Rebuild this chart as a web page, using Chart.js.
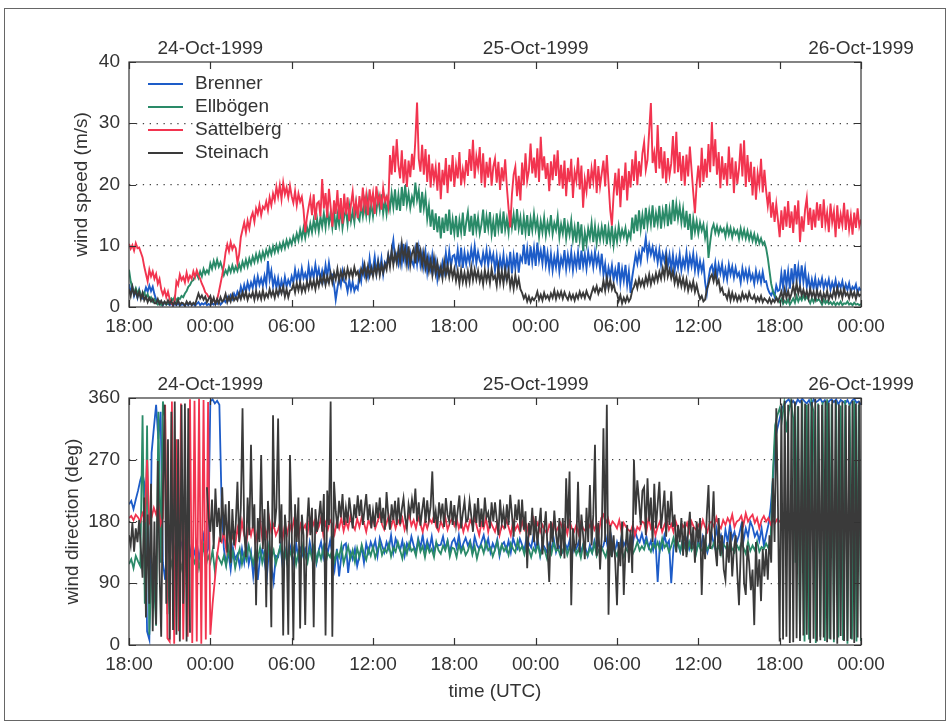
<!DOCTYPE html>
<html>
<head>
<meta charset="utf-8">
<script src="https://cdn.jsdelivr.net/npm/chart.js@4.4.1/dist/chart.umd.min.js"></script>
<style>
  html, body { margin: 0; padding: 0; background: #fff; }
  #page { position: relative; width: 949px; height: 725px; overflow: hidden; background: #fff; }
  #frame { position: absolute; left: 4px; top: 8px; width: 940px; height: 711px; border: 1px solid #666; }
  canvas { position: absolute; left: 0; display: block; }
  #speed { top: 0; }
  #dir { top: 352px; }
</style>
</head>
<body>
<div id="page">
  <div id="frame"></div>
  <canvas id="speed" width="949" height="352"></canvas>
  <canvas id="dir" width="949" height="373"></canvas>
</div>
<script>
// Föhn event, 23 Oct 1999 18:00 UTC to 26 Oct 1999 00:00 UTC.
// Time is counted in hours from 23-Oct-1999 18:00 UTC.
const stations = ['Brenner', 'Ellbögen', 'Sattelberg', 'Steinach'];
const stationColors = ['#1d5cc8', '#2a8a68', '#f2344f', '#3a3a3a'];

const timeTickLabels = ['18:00', '00:00', '06:00', '12:00', '18:00', '00:00', '06:00', '12:00', '18:00', '00:00'];
const dateLabels = ['24-Oct-1999', '25-Oct-1999', '26-Oct-1999'];
const dateLabelHours = [6, 30, 54];

// Wind speed (m/s), one value every 7.5 minutes (8 per hour)
const SPEED_STEP_H = 1 / 8;
const brennerSpeed = [
  3.7,2.5,3.3,1.8,2.6,1.5,2.8,1.6, 1.4,2.2,3.2,2.5,3.5,2.6,3.3,2.1, 1.2,0.8,0.5,0.9,0.3,0.7,0.4,0.6,
  0.3,0.6,0.2,0.5,0.3,0.7,0.2,0.4, 0.4,0.2,0.6,0.3,0.7,0.3,0.5,0.2, 0.5,0.8,0.3,0.6,0.4,0.7,0.3,0.5,
  0.3,0.6,0.4,0.8,0.5,0.9,0.4,0.7, 1.1,0.8,1.6,1.1,1.9,1.3,2.2,1.5, 2.5,1.8,3.3,2.2,3.6,2.5,4.0,2.9,
  4.0,3.1,4.7,3.3,5.0,3.6,4.6,3.5, 5.1,3.7,7.5,4.5,5.9,3.4,4.8,3.1, 4.7,2.8,4.3,3.0,4.9,3.3,4.4,3.6,
  5.0,4.0,6.1,4.4,5.7,4.2,6.3,4.7, 5.5,4.3,6.7,4.6,6.1,4.8,6.9,5.0, 6.2,4.5,5.9,4.4,6.8,4.9,7.2,5.3,
  5.3,3.6,1.2,3.1,4.7,3.5,5.8,4.1, 3.9,2.5,4.4,2.8,4.1,2.6,3.4,2.9, 5.5,4.2,7.0,5.1,6.1,4.9,7.9,5.6,
  6.3,8.2,5.5,7.6,5.8,7.9,5.3,7.3, 6.8,8.5,7.2,9.1,10.9,7.8,8.6,7.1, 9.5,7.2,10.3,7.6,9.8,7.0,8.8,7.4,
  6.7,9.3,7.0,9.6,6.9,8.7,6.5,8.9, 5.7,8.1,6.3,8.5,6.0,7.6,4.5,6.4, 5.4,7.3,5.8,8.8,6.4,9.1,6.7,8.3,
  8.5,6.9,9.3,6.6,9.7,6.4,8.9,7.0, 8.7,7.3,9.5,7.5,9.9,7.2,9.0,7.6, 6.9,8.8,7.2,9.3,6.8,9.0,7.4,8.6,
  6.0,8.3,5.7,8.0,6.2,8.5,5.5,7.8, 6.1,9.0,5.5,8.4,6.3,8.9,5.6,8.2, 7.5,10.2,7.0,9.5,6.8,9.9,7.3,9.6,
  6.7,10.5,7.6,9.2,7.1,10.0,6.9,8.8, 6.3,8.7,6.0,8.2,6.5,8.9,5.8,8.0, 6.8,9.3,6.2,8.5,6.6,9.0,6.0,8.3,
  6.5,8.9,6.1,9.2,6.7,8.6,6.3,9.0, 7.2,8.6,6.5,9.0,6.9,8.4,6.2,8.7, 5.3,7.0,4.2,6.4,5.0,6.8,4.4,6.1,
  4.5,7.3,3.9,6.2,4.3,6.9,3.6,5.8, 2.3,4.9,6.7,8.5,7.1,8.9,7.4,9.6, 9.2,11.3,8.2,10.1,8.6,9.8,8.0,9.4,
  7.3,9.3,6.9,8.7,7.5,9.0,6.7,8.5, 6.1,8.5,5.9,8.0,6.4,8.6,6.0,7.8, 6.5,8.9,6.2,8.3,6.7,8.7,6.0,8.1,
  5.7,7.5,5.9,7.2,4.0,2.2,4.6,6.3, 6.8,5.3,7.2,4.9,6.9,5.5,7.0,4.7, 6.2,4.5,6.9,5.3,6.6,4.8,6.4,5.0,
  5.6,4.0,6.3,4.7,6.0,4.4,6.1,4.5, 5.3,3.8,5.9,4.3,5.5,4.0,5.7,4.1, 4.2,3.0,2.3,1.9,2.6,1.7,3.5,2.6,
  2.8,5.5,3.2,6.1,3.4,5.8,3.0,6.3, 3.7,7.0,4.3,6.5,3.9,6.8,4.1,6.2, 3.3,4.9,2.8,4.5,3.0,4.7,2.6,4.3,
  3.5,4.7,3.0,4.2,3.3,4.5,2.8,4.0, 3.0,4.4,2.7,3.9,3.2,4.2,2.5,3.7, 2.8,3.9,2.4,3.3,2.9,3.7,2.3,3.1,
  2.7
];
const ellbogenSpeed = [
  6.1,4.2,3.0,2.4,3.1,2.2,2.8,2.0, 1.9,2.4,1.5,2.1,1.2,1.6,0.9,1.3, 0.7,0.4,0.9,0.3,0.6,0.8,0.4,0.6,
  0.9,1.4,1.1,1.7,1.0,1.5,1.3,1.8, 1.6,2.2,2.6,3.3,3.6,4.2,4.4,5.1, 5.3,4.7,5.8,5.0,6.2,5.4,6.0,5.5,
  7.1,6.2,7.5,6.5,7.7,6.6,7.3,6.4, 5.2,6.0,5.4,6.5,5.7,6.8,5.8,6.6, 5.9,7.0,6.1,7.4,6.5,7.7,6.6,7.9,
  7.0,8.2,7.3,8.6,7.5,8.8,7.7,9.0, 8.0,9.3,8.4,9.6,8.6,9.9,8.9,10.1, 9.1,10.3,9.4,10.6,9.6,10.9,9.9,11.0,
  10.2,11.5,10.6,12.0,10.9,12.6,11.2,12.9, 11.3,13.1,11.9,13.6,12.2,14.2,12.6,14.4, 12.4,14.7,13.1,15.3,13.0,15.8,13.5,15.4,
  13.0,15.8,12.6,15.1,13.4,16.2,12.9,14.8, 15.9,13.5,16.4,14.0,15.6,13.8,16.9,14.6, 14.1,16.7,14.8,17.2,15.0,17.6,14.7,16.9,
  14.8,17.1,15.6,18.0,15.9,18.4,15.3,17.5, 15.2,17.8,16.0,18.6,16.3,19.2,15.8,18.3, 15.7,19.6,16.5,19.9,16.8,18.6,16.2,18.0,
  16.9,20.3,17.5,19.0,15.4,18.8,16.1,18.2, 14.4,16.5,13.1,15.9,12.6,15.3,12.2,14.8, 11.2,14.6,12.1,15.2,12.4,15.9,11.8,14.3,
  12.0,14.9,11.4,14.2,12.2,15.4,11.6,13.8, 15.5,12.3,14.9,11.7,15.2,12.5,14.6,12.0, 13.5,15.9,12.1,14.8,12.8,15.5,11.9,14.1,
  11.5,15.3,12.7,14.9,12.0,15.6,12.6,14.4, 12.2,15.8,13.0,15.1,12.5,16.0,12.8,14.6, 11.8,14.7,12.2,15.0,11.6,14.4,12.5,15.2,
  12.7,14.3,11.5,14.0,12.2,14.6,11.7,13.8, 12.3,15.0,11.9,13.7,12.6,14.8,11.4,13.5, 12.0,14.5,11.2,13.4,11.8,14.1,11.0,13.0,
  10.5,13.9,11.0,13.5,9.1,12.2,10.3,12.8, 11.3,13.7,10.6,13.2,10.4,12.8,11.0,13.1, 11.1,13.5,10.2,12.9,10.7,13.3,10.1,12.5,
  10.7,13.2,11.2,12.6,11.5,12.9,10.8,12.2, 11.3,14.6,12.0,15.1,12.4,15.8,12.7,15.0, 12.7,16.2,13.3,15.6,13.5,16.6,13.0,15.3,
  13.6,16.5,12.8,15.7,13.9,16.8,13.2,15.9, 13.5,17.5,14.0,16.8,14.4,16.4,13.8,16.0, 13.0,15.7,12.6,15.2,11.0,14.4,12.3,14.0,
  12.0,13.8,12.5,13.5,11.3,12.9,8.0,10.6, 12.7,13.5,12.1,13.2,11.9,13.0,12.3,12.8, 11.5,13.2,11.8,12.9,11.4,12.7,11.9,12.5,
  11.1,12.8,11.4,12.6,11.2,12.4,11.0,12.1, 10.8,11.9,10.5,11.6,10.4,11.2,10.2,10.6, 9.6,8.0,5.9,3.8,2.6,2.0,1.6,1.1,
  0.8,1.3,0.5,1.0,0.6,1.2,0.4,0.9, 1.4,0.7,1.8,0.9,1.6,1.1,1.9,1.2, 1.7,1.2,0.6,1.4,0.8,1.6,1.0,1.3,
  0.9,0.4,1.2,0.6,1.0,0.5,0.8,0.4, 0.8,0.3,0.7,0.4,0.9,0.3,0.6,0.5, 0.9,0.4,0.6,0.3,0.7,0.4,0.5,0.3,
  0.5
];
const sattelbergSpeed = [
  10.3,9.5,10.1,9.2,10.4,9.6,9.7,8.9, 8.1,6.6,5.4,4.2,6.1,5.0,5.8,4.6, 5.4,3.8,4.6,2.9,2.0,2.8,1.6,2.5,
  1.3,0.6,0.3,1.1,4.2,3.6,5.3,4.4, 4.9,4.0,5.6,4.3,5.1,4.6,5.8,4.9, 6.0,5.2,4.6,3.8,3.2,2.4,2.1,1.6,
  1.5,0.9,1.3,0.7,1.2,2.4,3.8,5.2, 6.8,8.9,10.2,9.1,10.6,9.4,10.1,9.6, 7.2,8.6,11.4,12.6,13.8,12.2,14.1,12.8,
  14.6,15.4,13.9,16.1,15.2,16.7,15.0,16.4, 16.0,17.2,15.8,17.9,16.6,18.5,17.4,19.6, 18.0,19.9,17.6,20.3,18.4,19.5,17.9,19.8,
  18.1,17.0,18.9,16.6,18.5,17.2,18.0,15.9, 12.2,14.6,16.3,17.8,15.0,18.4,14.2,16.9, 17.2,14.8,20.9,16.1,18.6,14.6,19.3,16.4,
  13.1,17.4,15.2,19.1,14.3,17.8,13.6,18.5, 15.1,17.9,14.0,16.8,18.8,15.4,17.2,14.5, 18.1,15.6,19.5,16.2,18.3,15.0,19.2,16.8,
  18.6,15.2,19.7,17.0,18.2,15.9,19.4,17.3, 18.0,16.4,24.8,21.6,26.3,22.0,27.4,23.1, 21.0,25.6,20.2,24.1,19.6,23.9,21.2,25.0,
  22.4,27.3,33.4,24.2,22.1,26.5,21.6,25.8, 20.4,24.9,19.5,23.4,20.7,22.8,19.0,23.6, 17.6,22.4,19.9,24.3,18.6,23.2,20.5,24.8,
  19.6,23.1,21.0,25.3,19.9,22.4,20.6,24.0, 21.4,25.8,22.2,27.3,21.0,24.6,22.8,26.1, 20.2,25.1,19.5,23.7,21.1,24.4,19.8,22.9,
  24.2,20.3,23.7,19.1,22.8,20.5,24.1,19.6, 16.1,13.0,18.4,21.6,22.9,18.1,21.4,17.4, 23.6,19.9,25.1,20.6,22.3,26.7,21.8,24.4,
  21.1,25.9,20.4,27.8,22.3,24.6,20.9,23.5, 18.9,23.8,20.7,24.9,21.4,25.6,19.8,23.2, 19.3,23.9,18.1,22.7,20.4,24.2,17.8,22.1,
  20.6,24.4,19.2,23.1,16.2,20.8,18.9,22.5, 19.3,22.6,20.5,24.1,18.6,23.0,19.7,21.8, 23.9,19.7,24.8,20.2,15.8,13.3,18.4,21.9,
  18.2,22.6,16.3,21.4,19.1,23.6,17.4,22.2, 19.5,24.1,20.6,25.5,19.9,23.8,21.3,25.1, 26.9,22.4,24.0,28.8,33.3,23.5,25.2,21.9,
  29.7,22.6,26.1,21.0,25.4,20.2,24.3,21.5, 23.4,27.9,21.8,28.6,22.0,25.3,20.6,24.7, 19.8,24.9,21.3,26.2,22.4,18.7,15.3,20.1,
  23.1,19.5,26.0,20.4,24.2,21.1,26.6,22.0, 30.2,23.0,27.4,21.6,25.3,19.4,24.6,20.8, 23.5,19.8,26.2,20.9,24.4,18.6,23.8,20.1,
  22.6,26.7,21.3,27.2,19.6,24.8,20.4,23.7, 18.2,22.9,17.5,21.8,19.9,24.2,18.7,22.4, 19.0,16.5,18.8,14.6,17.1,13.9,16.8,14.2,
  11.4,15.8,12.6,16.4,13.1,17.3,12.9,15.6, 12.1,16.6,13.5,17.4,10.6,14.8,12.3,15.9, 17.8,13.4,16.2,12.6,15.9,13.0,17.1,14.1,
  16.8,12.9,17.6,13.5,15.4,12.2,16.9,13.8, 15.6,11.4,16.6,12.8,15.1,13.4,17.0,12.6, 15.9,12.7,14.9,11.8,15.4,12.9,16.1,13.2,
  14.3
];
const steinachSpeed = [
  2.9,1.8,3.3,2.0,2.7,1.6,2.5,1.3, 2.3,1.1,1.7,0.8,1.5,0.9,1.3,0.6, 0.6,1.3,0.5,1.0,0.4,0.9,0.5,1.1,
  0.5,1.0,0.3,0.8,0.4,1.1,0.3,0.7, 0.6,0.2,0.9,0.4,0.8,0.3,0.7,0.4, 1.3,2.2,1.4,1.9,1.2,1.7,0.8,1.3,
  1.8,0.7,1.5,0.5,1.3,0.6,1.6,0.9, 1.2,2.1,0.8,1.7,0.9,2.0,1.1,1.6, 1.1,2.2,1.3,2.4,1.5,2.5,1.2,2.1,
  1.6,2.4,1.2,2.6,1.4,2.3,1.3,2.7, 1.4,2.2,1.6,2.9,1.8,2.6,1.5,2.8, 1.9,3.1,2.2,3.3,1.7,2.9,1.6,2.7,
  2.8,3.7,2.4,3.9,2.7,4.0,2.5,3.6, 2.6,4.1,3.0,4.4,3.2,4.3,2.9,4.6, 3.4,4.9,3.8,5.3,3.6,5.0,3.9,5.5,
  4.0,5.6,4.5,6.2,4.3,5.8,4.7,6.0, 4.7,6.3,5.0,6.0,4.9,6.5,5.3,5.8, 4.5,6.2,5.4,6.9,4.8,6.6,5.1,6.4,
  5.0,6.7,5.3,7.2,5.2,6.9,5.6,7.0, 6.1,8.4,6.6,9.2,6.9,8.8,7.2,9.4, 7.3,10.3,8.0,9.6,7.1,9.9,6.8,8.7,
  9.5,7.1,10.5,8.0,9.2,6.7,8.8,6.4, 8.0,5.9,7.6,5.3,7.9,5.5,7.2,5.0, 6.5,4.7,7.3,5.2,6.8,4.9,6.6,4.8,
  6.2,4.3,5.9,3.8,6.0,4.1,5.6,3.9, 5.8,4.1,6.5,4.4,6.1,4.5,5.9,4.2, 5.5,3.7,6.0,4.3,5.7,3.9,6.2,4.6,
  5.1,3.5,6.4,4.0,5.8,3.8,6.1,4.3, 5.9,3.3,4.8,3.0,5.2,3.4,4.6,2.9, 2.3,1.4,2.0,0.9,1.7,0.8,1.5,1.1,
  1.6,2.5,1.2,2.0,1.1,2.3,1.4,1.9, 1.2,2.2,1.5,2.7,1.3,2.4,1.6,2.5, 1.4,2.4,1.7,1.2,2.2,1.3,2.0,1.1,
  2.1,1.4,2.5,1.6,2.3,1.5,2.6,1.8, 1.3,2.3,3.2,2.5,3.4,2.2,3.0,2.6, 4.3,2.7,4.7,3.0,4.4,2.9,3.8,2.5,
  2.2,1.0,1.9,0.6,1.5,0.8,1.7,0.9, 1.4,2.7,3.3,4.2,3.1,4.6,3.5,4.4, 3.4,4.9,3.8,5.3,3.7,5.0,4.1,5.5,
  4.3,5.7,4.6,6.3,4.9,7.7,5.0,6.1, 4.7,5.9,3.9,5.2,3.6,4.9,3.4,4.7, 3.1,4.5,2.7,3.9,2.9,4.2,2.5,3.6,
  2.3,1.3,1.8,0.9,1.2,2.9,3.7,4.8, 5.3,4.2,5.6,3.8,4.4,2.6,3.1,2.0, 2.1,1.3,2.6,1.1,2.3,1.2,2.0,1.0,
  1.8,1.1,2.3,1.4,2.0,1.2,2.4,1.5, 1.3,1.9,0.9,1.6,1.0,1.8,0.8,1.4, 1.1,0.7,1.4,0.6,1.2,0.8,1.5,0.9,
  1.6,2.5,1.2,2.9,1.5,2.6,1.3,2.2, 3.5,2.0,3.9,2.2,3.3,1.9,2.8,1.7, 2.6,1.4,2.9,1.7,2.5,1.3,2.7,1.6,
  2.4,1.1,2.2,1.4,2.6,1.2,2.1,1.5, 2.8,1.6,3.1,1.8,2.7,1.5,3.0,1.9, 2.3,1.4,2.6,1.7,2.4,1.3,2.5,1.8,
  2.1
];

// Wind direction (deg): 10-minute values, Steinach every 7.5 minutes (null = no record)
const DIR_STEP_H = 1 / 6;
const STEINACH_DIR_STEP_H = 1 / 8;
const brennerDir = [
  205,210,198,212,225,240, 250,232,20,8,280,316, 350,300,340,120,95,150, 140,165,130,150,125,145, 155,130,160,140,120,135, 150,125,145,160,130,140,
  355,358,352,356,350,205, 140,118,135,110,142,125, 132,115,140,120,148,118, 135,100,130,95,128,140, 122,98,140,115,92,130, 128,145,115,140,122,148,
  135,118,148,125,140,130, 140,126,150,132,145,120, 138,150,128,145,135,152, 132,110,140,100,130,145, 148,105,135,125,140,115, 130,142,120,148,135,150,
  140,152,130,156,145,135, 150,140,160,135,155,145, 138,152,130,148,140,158, 145,135,155,142,160,138, 152,140,158,135,148,145, 146,158,140,152,135,150,
  155,142,160,138,148,156, 145,152,135,158,146,140, 150,160,142,155,135,148, 140,154,130,146,150,138, 152,135,156,145,140,155, 146,138,158,148,142,160,
  140,152,130,148,142,135, 148,140,155,135,146,140, 135,148,140,152,130,145, 140,150,135,146,142,130, 146,135,152,140,148,138, 145,158,140,165,148,135,
  150,138,158,145,152,142, 160,148,166,155,150,162, 148,158,142,152,138,155, 92,148,140,160,146,152, 90,142,156,148,136,152, 146,156,140,152,143,135,
  152,140,158,146,135,148, 160,145,170,152,160,140, 168,150,175,155,165,150, 160,175,152,170,158,180, 172,158,165,152,170,145, 160,175,200,240,300,316,
  330,345,350,355,358,352, 356,350,358,354,359,355, 352,357,349,358,354,356, 359,353,357,350,356,358, 354,358,351,357,355,352, 357,350,356,359,353,355,
  350
];
const ellbogenDir = [
  118,125,112,130,122,115, 335,60,320,15,110,95, 28,340,120,355,330,45, 130,115,140,120,135,110, 125,140,118,132,128,120, 135,112,128,145,115,130,
  120,138,108,132,125,118, 130,115,142,122,136,112, 128,140,118,134,124,145, 130,118,138,125,142,120, 135,122,146,128,138,118, 132,144,125,138,120,140,
  128,142,118,136,124,145, 130,120,140,126,146,122, 137,125,142,118,134,128, 140,122,136,128,145,119, 132,144,126,138,121,141, 128,146,133,124,140,130,
  143,127,138,149,131,140, 135,147,129,142,136,150, 138,126,145,133,148,137, 141,130,152,136,144,128, 146,135,140,128,150,138, 133,145,138,151,129,142,
  140,128,147,135,143,131, 137,149,132,144,126,140, 145,134,150,138,142,129, 139,151,133,146,137,143, 131,148,140,135,152,138, 144,132,146,139,128,141,
  135,147,130,142,138,126, 143,133,149,137,140,129, 138,145,131,142,135,148, 132,140,127,145,136,130, 141,134,148,130,139,144, 136,128,142,133,146,138,
  130,143,137,128,141,135, 146,133,140,150,138,144, 139,152,143,136,148,141, 150,138,155,142,147,136, 144,156,140,149,137,152, 142,135,150,138,146,133,
  148,140,136,152,139,145, 141,150,137,144,132,147, 143,136,149,140,135,146, 139,148,142,133,150,137, 145,138,151,136,143,140, 148,141,155,250,320,335,
  345,328,352,310,340,355, 330,120,348,10,355,5, 350,8,356,340,3,352, 12,354,6,358,9,351, 4,355,11,349,7,357, 2,352,8,356,5,350,
  6
];
const sattelbergDir = [
  185,188,182,190,186,180, 192,184,270,178,186,200, 190,205,176,185,350,10, 5,355,2,300,20,352, 8,190,12,358,3,356, 5,359,2,357,8,354,
  15,60,95,130,155,150, 165,140,175,150,160,145, 170,155,180,160,150,175, 160,175,150,168,182,155, 172,158,185,165,175,160, 168,180,155,175,162,178,
  165,182,170,158,176,168, 175,162,185,170,180,165, 172,185,160,178,168,182, 176,162,180,170,185,166, 180,170,188,175,168,184, 172,186,178,165,182,174,
  185,170,180,190,176,168, 178,188,172,184,170,182, 175,185,168,180,190,174, 182,170,186,176,165,180, 170,184,178,188,172,166, 180,172,186,168,178,184,
  174,185,170,180,165,178, 168,182,175,186,172,160, 178,170,185,165,180,172, 165,178,160,175,170,182, 172,160,180,168,175,165, 180,168,175,160,172,184,
  170,178,165,175,168,162, 175,168,180,165,172,178, 168,176,162,180,170,165, 175,162,178,170,166,180, 172,180,168,176,165,185, 190,178,185,172,180,176,
  170,182,165,178,172,168, 165,175,160,172,168,180, 178,165,185,170,176,160, 172,180,165,175,182,168, 176,165,180,170,162,175, 170,178,165,180,172,168,
  175,168,182,172,165,178, 180,172,186,175,170,182, 175,185,178,190,172,180, 182,188,175,192,180,186, 190,178,185,170,182,188, 180,185,176,182,178,184,
  180,176,185,172,182,178, 186,175,180,170,184,178, 182,176,188,174,180,185, 178,184,172,180,186,176, 182,175,188,178,184,172, 180,186,175,182,178,184,
  180
];
const steinachDir = [
  160,145,178,136,170,150,182,140, 98,215,40,190,60,235,20,180, 30,268,110,12,220,350,60,300,
  8,340,22,355,15,300,5,350, 60,352,5,345,18,null,null,null, null,null,null,null,null,null,230,185,
  165,212,140,228,172,200,150,230, 160,205,135,210,120,198,145,176, 238,150,200,345,165,128,215,160,
  292,170,205,58,185,150,277,140, 198,55,210,160,26,335,172,200, 330,148,205,14,190,160,15,277,
  175,7,205,150,215,24,190,160, 29,172,215,160,200,26,198,165, 185,210,165,220,14,225,175,355,
  12,238,195,170,210,186,220,175, 200,178,215,192,170,205,185,218, 188,212,175,198,220,182,205,170,
  195,172,208,185,215,178,200,168, 223,190,168,205,182,210,175,215, 176,198,214,185,170,205,190,212,
  192,228,180,208,174,196,215,178, 211,183,202,253,178,195,170,208, 186,206,172,214,190,180,210,175,
  204,175,196,218,170,192,210,180, 183,210,188,165,206,178,214,172, 199,172,215,186,193,170,208,180,
  208,184,160,212,178,196,170,205, 175,219,190,158,205,182,212,165, 212,168,195,112,178,160,200,150,
  188,145,175,200,132,168,195,140, 92,180,150,196,162,140,185,130, 185,126,243,170,253,58,170,140,
  148,238,135,190,160,125,200,150, 233,145,190,292,130,178,110,160, 316,150,350,44,175,128,160,120,
  58,150,115,180,73,140,175,120, 168,105,270,190,240,210,175,225, 230,160,243,180,215,150,235,170,
  205,238,170,196,225,158,210,175, 224,172,190,135,175,150,185,130, 180,128,165,194,140,172,120,180,
  150,185,73,160,125,190,233,140, 170,224,140,115,185,130,160,110, 95,150,120,165,100,140,160,105,
  58,135,180,90,73,145,120,80, 110,29,150,85,125,64,140,100, 140,95,160,120,243,150,345,200,
  5,352,8,356,12,350,3,358, 4,355,10,348,6,357,14,352, 15,352,3,354,9,359,5,350,
  7,350,11,356,4,353,8,357, 8,357,2,351,13,355,6,350, 6,349,9,356,3,352,11,355,
  10
];

const FONT_FAMILY = '"Liberation Sans", Arial, Helvetica, sans-serif';
const TEXT_COLOR = '#333';
Chart.defaults.font.family = FONT_FAMILY;
Chart.defaults.font.size = 19;
Chart.defaults.color = TEXT_COLOR;

function toPoints(values, stepH) {
  return values.map((v, i) => ({ x: i * stepH, y: v }));
}

function buildDatasets(seriesList, steps, width) {
  return seriesList.map((values, k) => ({
    label: stations[k],
    data: toPoints(values, steps[k]),
    borderColor: stationColors[k],
    backgroundColor: stationColors[k],
    borderWidth: width,
    pointRadius: 0,
    tension: 0,
    spanGaps: false,
    // later stations are drawn above earlier ones
    order: stations.length - 1 - k
  }));
}

// axes box with inward tick marks on all four sides
const axesBox = {
  id: 'axesBox',
  afterDatasetsDraw(chart) {
    const { ctx, chartArea: a, scales } = chart;
    const len = 7;
    ctx.save();
    ctx.strokeStyle = '#333';
    ctx.lineWidth = 1.2;
    ctx.strokeRect(a.left, a.top, a.right - a.left, a.bottom - a.top);
    ctx.beginPath();
    scales.x.ticks.forEach(t => {
      const px = Math.round(scales.x.getPixelForValue(t.value)) + 0.5;
      ctx.moveTo(px, a.bottom); ctx.lineTo(px, a.bottom - len);
      ctx.moveTo(px, a.top); ctx.lineTo(px, a.top + len);
    });
    scales.y.ticks.forEach(t => {
      const py = Math.round(scales.y.getPixelForValue(t.value)) + 0.5;
      ctx.moveTo(a.left, py); ctx.lineTo(a.left + len, py);
      ctx.moveTo(a.right, py); ctx.lineTo(a.right - len, py);
    });
    ctx.stroke();
    ctx.restore();
  }
};

// station key in the upper left corner of the speed panel
const stationKey = {
  id: 'stationKey',
  afterDraw(chart) {
    const { ctx, chartArea: a } = chart;
    ctx.save();
    ctx.font = '19px ' + FONT_FAMILY;
    ctx.textBaseline = 'middle';
    ctx.textAlign = 'left';
    stations.forEach((name, k) => {
      const y = a.top + 22 + k * 23;
      ctx.strokeStyle = stationColors[k];
      ctx.lineWidth = 1.8;
      ctx.beginPath();
      ctx.moveTo(a.left + 19, y);
      ctx.lineTo(a.left + 54, y);
      ctx.stroke();
      ctx.fillStyle = TEXT_COLOR;
      ctx.fillText(name, a.left + 66, y);
    });
    ctx.restore();
  }
};

function panelOptions(cfg) {
  return {
    responsive: false,
    animation: false,
    devicePixelRatio: 1,
    layout: { padding: { left: 0, right: 88, top: 0, bottom: 0 } },
    plugins: { legend: { display: false }, tooltip: { enabled: false } },
    scales: {
      x: {
        type: 'linear',
        position: 'bottom',
        min: 0, max: 54,
        grid: { display: false, drawTicks: false },
        border: { display: false },
        ticks: {
          stepSize: 6, autoSkip: false, maxRotation: 0, padding: 8,
          callback: v => timeTickLabels[Math.round(v / 6)]
        },
        title: cfg.xTitle
          ? { display: true, text: cfg.xTitle, padding: { top: 0, bottom: 22 } }
          : { display: false },
        afterFit: s => { s.height = cfg.bottomHeight; s.paddingLeft = 0; s.paddingRight = 0; }
      },
      xDate: {
        type: 'linear',
        position: 'top',
        min: 0, max: 54,
        grid: { display: false, drawTicks: false },
        border: { display: false },
        afterBuildTicks: s => { s.ticks = dateLabelHours.map(h => ({ value: h })); },
        ticks: {
          autoSkip: false, maxRotation: 0, padding: 2,
          callback: v => dateLabels[dateLabelHours.indexOf(v)]
        },
        afterFit: s => { s.height = cfg.topHeight; s.paddingLeft = 0; s.paddingRight = 0; }
      },
      y: {
        type: 'linear',
        position: 'left',
        min: cfg.yMin, max: cfg.yMax,
        grid: {
          drawTicks: false,
          lineWidth: 1.2,
          color: c => (c.tick && c.tick.value > cfg.yMin && c.tick.value < cfg.yMax) ? '#444' : 'rgba(0,0,0,0)'
        },
        border: { display: false, dash: [1.3, 5.6] },
        ticks: { stepSize: cfg.yStep, padding: 9 },
        title: { display: true, text: cfg.yTitle, padding: { top: cfg.yTitlePad, bottom: 0 } },
        afterFit: s => { s.width = 129; }
      }
    }
  };
}

new Chart(document.getElementById('speed'), {
  type: 'line',
  data: {
    datasets: buildDatasets(
      [brennerSpeed, ellbogenSpeed, sattelbergSpeed, steinachSpeed],
      [SPEED_STEP_H, SPEED_STEP_H, SPEED_STEP_H, SPEED_STEP_H], 1.9)
  },
  options: panelOptions({
    yMin: 0, yMax: 40, yStep: 10, yTitle: 'wind speed (m/s)', yTitlePad: 70,
    topHeight: 62, bottomHeight: 45, xTitle: null
  }),
  plugins: [axesBox, stationKey]
});

new Chart(document.getElementById('dir'), {
  type: 'line',
  data: {
    datasets: buildDatasets(
      [brennerDir, ellbogenDir, sattelbergDir, steinachDir],
      [DIR_STEP_H, DIR_STEP_H, DIR_STEP_H, STEINACH_DIR_STEP_H], 1.8)
  },
  options: panelOptions({
    yMin: 0, yMax: 360, yStep: 90, yTitle: 'wind direction (deg)', yTitlePad: 61,
    topHeight: 46, bottomHeight: 80, xTitle: 'time (UTC)'
  }),
  plugins: [axesBox]
});
</script>
</body>
</html>
